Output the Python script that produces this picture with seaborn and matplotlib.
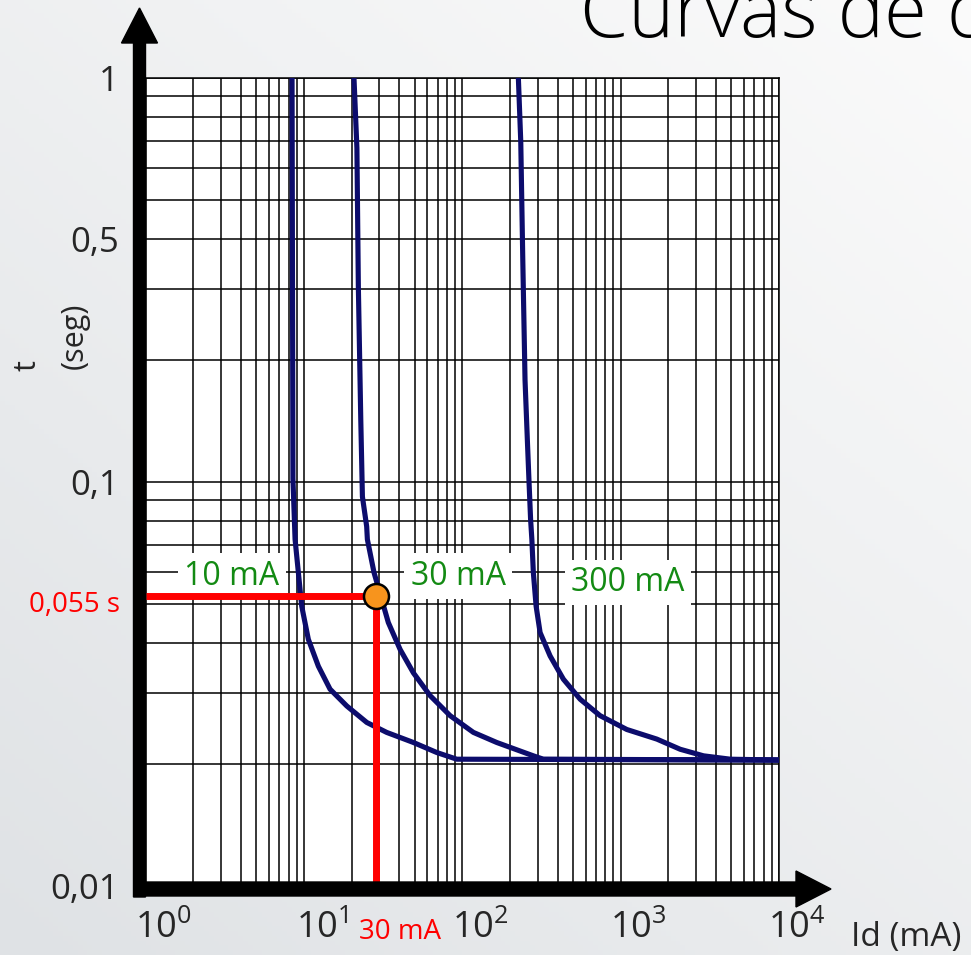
import numpy as np
import pandas as pd
import matplotlib
matplotlib.use("Agg")
import matplotlib.pyplot as plt
import matplotlib.transforms as mtransforms
from matplotlib.patches import FancyArrow
from matplotlib.ticker import LogLocator, NullFormatter
import seaborn as sns

# ---------------- data ----------------
curve_names = ["10 mA", "30 mA", "300 mA"]

i_10mA = [8.41, 8.52, 8.79, 9.22, 9.68, 10.66, 12.33, 14.62, 18.64, 24.93, 33.3, 49.1, 69.0, 92.3, 10000]
t_10mA = [1.0, 0.1018, 0.0721, 0.0597, 0.0493, 0.0408, 0.035, 0.0307, 0.0279, 0.0254, 0.024, 0.02266, 0.0214, 0.0206, 0.0205]

i_30mA = [20.7, 21.6, 22.06, 22.85, 23.4, 24.9, 25.15, 27.7, 34.1, 40.5, 49.1, 62.6, 83.8, 117.5, 165, 281, 325, 10000]
t_30mA = [1.0, 0.671, 0.304, 0.1427, 0.092, 0.0776, 0.0721, 0.0597, 0.0449, 0.0385, 0.0337, 0.0296, 0.0264, 0.024, 0.02266, 0.021, 0.0206, 0.0205]

i_300mA = [226, 234, 241, 249, 258, 264, 270, 275, 281, 292.5, 310, 358.6, 435, 555, 742, 1094, 1693, 2377, 3337, 4930, 10000]
t_300mA = [1.0, 0.696, 0.355, 0.179, 0.125, 0.0997, 0.0808, 0.0721, 0.0597, 0.0493, 0.0424, 0.0371, 0.0325, 0.029, 0.0264, 0.0244, 0.0231, 0.0218, 0.021, 0.0206, 0.0205]

x_ticks = [1, 10, 100, 1000, 10000]
x_tick_labels = [r"$\mathregular{10^{0}}$", r"$\mathregular{10^{1}}$", r"$\mathregular{10^{2}}$",
                 r"$\mathregular{10^{3}}$", r"$\mathregular{10^{4}}$"]
y_ticks = [0.01, 0.1, 0.4, 1]
y_tick_labels = ["0,01", "0,1", "0,5", "1"]

point_I = 28.5
point_t = 0.0521
point_I_label = "30 mA"
point_t_label = "0,055 s"

title_text = "Curvas de disparo"
x_label = "Id (mA)"
y_label_1 = "t"
y_label_2 = "(seg)"

# label anchor positions (layout)
label_pos = {"10 mA": (3.5, 0.0584), "30 mA": (94, 0.0584), "300 mA": (1115, 0.0564)}

# ---------------- style ----------------
sns.set_style("white")
plt.rcParams["font.family"] = ["Open Sans", "DejaVu Sans"]
plt.rcParams["mathtext.fontset"] = "custom"
plt.rcParams["mathtext.rm"] = "Open Sans"

navy = "#0c0c6c"
green = "#138a13"

fig = plt.figure(figsize=(9.71, 9.55), dpi=100)

# background gradient
bg = fig.add_axes([0, 0, 1, 1], zorder=-10)
H, W = 200, 200
u = np.linspace(0, 1, W)[None, :]
v = np.linspace(0, 1, H)[:, None]
f = np.clip(0.45 * u + 0.55 * v, 0, 1)
dark = np.array([0xdf, 0xe2, 0xe5]) / 255.0
light = np.array([0xfb, 0xfb, 0xfb]) / 255.0
img = dark[None, None, :] * (1 - f[..., None]) + light[None, None, :] * f[..., None]
bg.imshow(img, extent=[0, 1, 0, 1], origin="lower", aspect="auto")
bg.set_axis_off()

ax = fig.add_axes([0.14995, 0.07225, 0.6523, 0.84607])
ax.set_facecolor("white")
ax.set_xscale("log")
ax.set_yscale("log")
ax.set_xlim(1, 1e4)
ax.set_ylim(0.01, 1)

ax.xaxis.set_minor_locator(LogLocator(base=10, subs=np.arange(2, 10), numticks=100))
ax.yaxis.set_minor_locator(LogLocator(base=10, subs=np.arange(2, 10), numticks=100))
ax.xaxis.set_minor_formatter(NullFormatter())
ax.yaxis.set_minor_formatter(NullFormatter())
ax.grid(True, which="both", color="black", lw=1.1)
ax.set_axisbelow(True)

df = pd.concat([
    pd.DataFrame({"I": i_10mA, "t": t_10mA, "curve": curve_names[0]}),
    pd.DataFrame({"I": i_30mA, "t": t_30mA, "curve": curve_names[1]}),
    pd.DataFrame({"I": i_300mA, "t": t_300mA, "curve": curve_names[2]}),
], ignore_index=True)

sns.lineplot(data=df, x="I", y="t", hue="curve", palette={n: navy for n in curve_names},
             estimator=None, sort=False, legend=False, lw=3.7, ax=ax, zorder=3)
ax.set_xlabel("")
ax.set_ylabel("")

for name in curve_names:
    lx, ly = label_pos[name]
    ax.text(lx, ly, name, color=green, fontsize=23, ha="center", va="center", zorder=2,
            bbox=dict(boxstyle="square,pad=0.2", fc="white", ec="none"))

# red guide lines and point
ax.plot([1, point_I], [point_t, point_t], color="#ff0000", lw=5, zorder=4,
        solid_capstyle="butt", clip_on=False)
ax.plot([point_I, point_I], [point_t, 0.01], color="#ff0000", lw=5, zorder=4,
        solid_capstyle="butt", clip_on=False)
ax.plot([point_I], [point_t], marker="o", ms=18, mfc="#f7941d", mec="black", mew=1.8,
        zorder=5, ls="none")

ax.annotate(point_t_label, xy=(0, point_t), xycoords=ax.get_yaxis_transform(),
            xytext=(-18.5, -6), textcoords="offset points", ha="right", va="center",
            color="#ff0000", fontsize=20, annotation_clip=False)
ax.annotate(point_I_label, xy=(point_I, 0), xycoords=ax.get_xaxis_transform(),
            xytext=(-12.5, -33), textcoords="offset points", ha="left", va="center",
            color="#ff0000", fontsize=20, annotation_clip=False)

# ticks
ax.set_xticks(x_ticks)
ax.set_xticklabels(x_tick_labels, fontsize=26)
ax.set_yticks(y_ticks)
ax.set_yticklabels(y_tick_labels, fontsize=25)
ax.tick_params(which="both", length=0)
ax.tick_params(axis="y", pad=19)
ax.tick_params(axis="x", pad=18)
offset = mtransforms.ScaledTranslation(13 / 72, 0, fig.dpi_scale_trans)
for lab in ax.get_xticklabels():
    lab.set_transform(lab.get_transform() + offset)

for s in ["top", "right"]:
    ax.spines[s].set_color("black")
    ax.spines[s].set_linewidth(1.1)
for s in ["left", "bottom"]:
    ax.spines[s].set_visible(False)

# axis arrows (inches from bottom-left)
arrow_y = FancyArrow(1.395, 0.58, 0, 9.47 - 0.58, width=0.12, head_width=0.36, head_length=0.35,
                     length_includes_head=True, color="black", transform=fig.dpi_scale_trans, zorder=6)
arrow_x = FancyArrow(1.34, 0.66, 8.31 - 1.34, 0, width=0.14, head_width=0.36, head_length=0.35,
                     length_includes_head=True, color="black", transform=fig.dpi_scale_trans, zorder=6)
fig.add_artist(arrow_y)
fig.add_artist(arrow_x)

# axis labels and title
fig.text(906 / 971, 1 - 937 / 955, x_label, fontsize=24, ha="center", va="center")
fig.text(27 / 971, 1 - 366 / 955, y_label_1, fontsize=22, ha="center", va="center", rotation=90)
fig.text(75 / 971, 1 - 336 / 955, y_label_2, fontsize=22, ha="center", va="center", rotation=90)
fig.text(580 / 971, 1 - 37 / 955, title_text, fontsize=56, fontweight="light", color="black",
         ha="left", va="baseline")

fig.savefig("out.png", dpi=100)
